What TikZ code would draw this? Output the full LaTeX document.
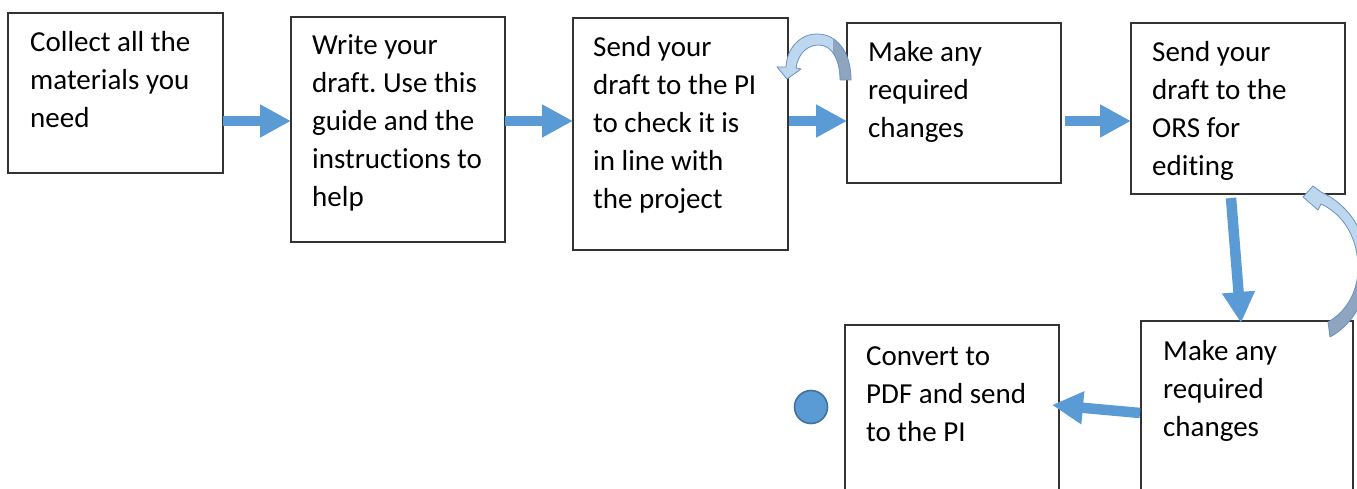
\documentclass[tikz,border=0pt]{standalone}
\usepackage{fontspec}
\setmainfont{Carlito}[Ligatures=NoCommon]
\frenchspacing
\usetikzlibrary{arrows.meta}
\definecolor{ablue}{HTML}{5B9BD5}
\definecolor{cdark}{HTML}{41719C}
\definecolor{clight}{HTML}{BDD7EE}
\definecolor{cgray}{HTML}{8EA4BF}
\definecolor{cline}{HTML}{6A93C4}
\begin{document}
\begin{tikzpicture}[x=1pt,y=-1pt,
  box/.style={draw=black!80, line width=1.3pt, anchor=north west, inner sep=0pt, outer sep=0pt},
  txt/.style={anchor=base west, inner sep=0pt, align=left, font=\fontsize{29}{38}\selectfont},
  flow/.style={draw=ablue, line width=10.5pt, -{Triangle[length=31pt,width=31pt]}},
  curvefill/.style={fill=clight},
  curvedark/.style={fill=cgray},
  curveline/.style={draw=cline, line width=0.8pt, line join=round}]
\useasboundingbox (0,0) rectangle (1357,489);
\clip (0,0) rectangle (1357,489);
\fill[white] (0,0) rectangle (1357,489);

% boxes
\node[box, minimum width=215pt, minimum height=160pt] (b1) at (8,13) {};
\node[box, minimum width=214pt, minimum height=225pt] (b2) at (291,17) {};
\node[box, minimum width=215pt, minimum height=232pt] (b3) at (573,18) {};
\node[box, minimum width=214pt, minimum height=160pt] (b4) at (847,23) {};
\node[box, minimum width=214pt, minimum height=171pt] (b5) at (1131,23) {};
\node[box, minimum width=212pt, minimum height=200pt] (b6) at (1141,321) {};
\node[box, minimum width=214pt, minimum height=200pt] (b7) at (845,325) {};

% texts (anchor = baseline of the last line)
\node[txt] (t1) at (30,128) {Collect all the\\materials you\\need};
\node[txt] (t2) at (312,207) {Write your\\draft. Use this\\guide and the\\instructions to\\help};
\node[txt] (t3) at (593,209) {Send your\\draft to the PI\\to check it is\\in line with\\the project};
\node[txt] (t4) at (868,138) {Make any\\required\\changes};
\node[txt] (t5) at (1152,176) {Send your\\draft to the\\ORS for\\editing};
\node[txt] (t6) at (1163,436) {Make any\\required\\changes};
\node[txt] (t7) at (866,441) {Convert to\\PDF and send\\to the PI};

% block arrows
\draw[flow] (b1.east |- 0,121) -- (b2.west |- 0,121);
\draw[flow] (b2.east |- 0,121) -- (b3.west |- 0,121);
\coordinate (a3s) at (789,121);
\draw[flow] (a3s) -- (b4.west |- 0,121);
\coordinate (a4s) at (1065,121);
\draw[flow] (a4s) -- (b5.west |- 0,121);
\coordinate (a5s) at (1231,198);
\coordinate (a5e) at (1241,323);
\draw[flow] (a5s) -- (a5e);
\coordinate (a6s) at (1140,413);
\coordinate (a6e) at (1052,405);
\draw[flow] (a6s) -- (a6e);

% dot
\node[circle, fill=ablue, draw=cdark, line width=1.6pt, minimum size=33pt, inner sep=0pt] (dot) at (811,407) {};

% curved arrow near box 4
\def\curveA{(851,80) .. controls (851,52) and (837,34) .. (817,34) .. controls (800,34) and (787,48) .. (786,67) -- (777,67) -- (787,79) -- (801,69) -- (796,68) .. controls (798,54) and (807,45) .. (819,45) .. controls (832,45) and (840,60) .. (840,80) -- cycle}
\fill[curvefill] \curveA;
\begin{scope}
\clip (833,0) rectangle (900,100);
\fill[curvedark] \curveA;
\end{scope}
\draw[curveline] \curveA;

% curved arrow near box 5 / box 6
\def\curveB{(1303,197) -- (1313,186) -- (1321,192) .. controls (1350,205) and (1368,235) .. (1368,268) .. controls (1368,300) and (1352,325) .. (1330,337) -- (1328,322) .. controls (1346,312) and (1358,292) .. (1358,268) .. controls (1358,240) and (1345,215) .. (1321,204) -- (1318,210) -- cycle}
\fill[curvefill] \curveB;
\begin{scope}
\clip (1250,268) rectangle (1400,360);
\fill[curvedark] \curveB;
\end{scope}
\draw[curveline] \curveB;
\end{tikzpicture}
\end{document}
